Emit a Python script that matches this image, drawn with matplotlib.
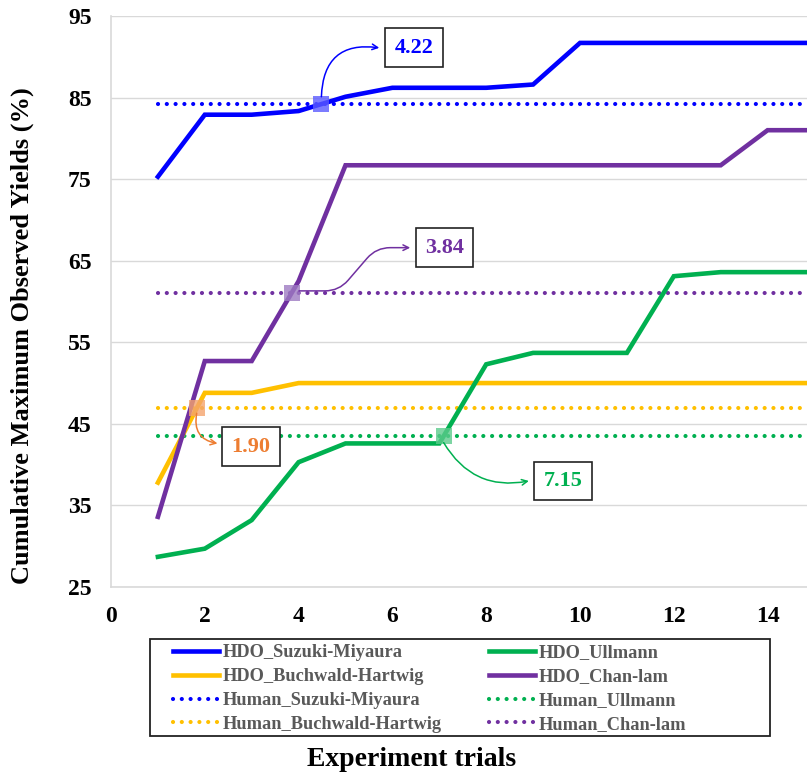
import numpy as np
import matplotlib
matplotlib.use("Agg")
from matplotlib import pyplot as plt
from matplotlib.patches import Rectangle

# HDO cumulative maximum yields per trial
trials = [1, 2, 3, 4, 5, 6, 7, 8, 9, 10, 11, 12, 13, 14, 15]
hdo_suzuki = [75.3, 82.9, 82.9, 83.35, 85.1, 86.2, 86.2, 86.2, 86.6, 91.7, 91.7, 91.7, 91.7, 91.7, 91.7]
hdo_buchwald = [37.8, 48.8, 48.8, 50.0, 50.0, 50.0, 50.0, 50.0, 50.0, 50.0, 50.0, 50.0, 50.0, 50.0, 50.0]
hdo_ullmann = [28.7, 29.7, 33.2, 40.3, 42.6, 42.6, 42.6, 52.3, 53.7, 53.7, 53.7, 63.1, 63.6, 63.6, 63.6]
hdo_chanlam = [33.6, 52.7, 52.7, 62.5, 76.7, 76.7, 76.7, 76.7, 76.7, 76.7, 76.7, 76.7, 76.7, 81.0, 81.0]

# human baseline yields
human_suzuki = 84.2
human_buchwald = 46.9
human_ullmann = 43.5
human_chanlam = 61.1

gap_labels = ["4.22", "3.84", "1.90", "7.15"]

BLUE = "#0000FF"
YELLOW = "#FFC000"
GREEN = "#00B050"
PURPLE = "#7030A0"
ORANGE = "#ED7D31"

plt.rcParams['font.family'] = ['Liberation Serif', 'DejaVu Serif']
plt.rcParams['font.weight'] = 'bold'

fig = plt.figure(figsize=(8.07, 7.75), dpi=100)
ax = fig.add_axes([111 / 807, 1 - 587 / 775, 1 - 111 / 807, (587 - 16) / 775])

solid_lw = 3.3
dot_style = (0, (0.01, 2.1))

series = [
    ("Suzuki-Miyaura", hdo_suzuki, human_suzuki, BLUE),
    ("Buchwald-Hartwig", hdo_buchwald, human_buchwald, YELLOW),
    ("Ullmann", hdo_ullmann, human_ullmann, GREEN),
    ("Chan-lam", hdo_chanlam, human_chanlam, PURPLE),
]

handles = {}
for name, ys, human, color in series:
    h1, = ax.plot(trials, ys, color=color, lw=solid_lw, solid_joinstyle='miter',
                  label="HDO_" + name, zorder=3)
    h2, = ax.plot([trials[0], trials[-1]], [human, human], color=color, lw=3,
                  linestyle=dot_style, dash_capstyle='round', label="Human_" + name, zorder=2)
    handles[name] = (h1, h2)


def crossing(ys, level):
    # first point where the HDO curve reaches the human level
    ys = np.array(ys)
    i = int(np.argmax(ys >= level))
    x0, x1 = trials[i - 1], trials[i]
    return x0 + (level - ys[i - 1]) / (ys[i] - ys[i - 1]) * (x1 - x0)


# markers, labels and arrows (text box centre / arrow tip / arrow style per series)
notes = [
    (hdo_suzuki, human_suzuki, BLUE, "#5B5BFF", gap_labels[0], (6.46, 91.1), (5.72, 91.1), (0, 0.9), "arc3,rad=-0.55"),
    (hdo_chanlam, human_chanlam, PURPLE, "#9E7BC2", gap_labels[1], (7.11, 66.6), (6.38, 66.6), (0.15, 0.2),
     "arc,angleA=0,armA=40,angleB=180,armB=34,rad=14"),
    (hdo_buchwald, human_buchwald, ORANGE, "#F4A46E", gap_labels[2], (2.985, 42.2), (2.27, 42.6), (0, -0.6), "arc3,rad=0.5"),
    (hdo_ullmann, human_ullmann, GREEN, "#5CCB8C", gap_labels[3], (9.64, 38.0), (8.91, 38.0), (0, -0.8), "arc3,rad=0.35"),
]
for ys, level, color, mcolor, label, center, tip, start_off, cstyle in notes:
    xc = crossing(ys, level)
    ax.plot([xc], [level], marker='s', markersize=11, color=mcolor, alpha=0.8,
            markeredgewidth=0, linestyle='none', zorder=4)
    ax.text(center[0], center[1], label, color=color, fontsize=16, fontweight='bold',
            ha='center', va='center', zorder=5,
            bbox=dict(boxstyle='square,pad=0.42', fc='white', ec='#222222', lw=1.2))
    ax.annotate('', xy=tip, xytext=(xc + start_off[0], level + start_off[1]),
                arrowprops=dict(arrowstyle='->', color=color, lw=1.1,
                                connectionstyle=cstyle, shrinkA=0, shrinkB=0), zorder=5)

ax.set_xlim(0, 14.84)
ax.set_ylim(25, 95)
ax.set_xticks(np.arange(0, 15, 2))
ax.set_yticks(np.arange(25, 96, 10))
ax.tick_params(length=0, labelsize=17, pad=14)
for lab in ax.get_xticklabels() + ax.get_yticklabels():
    lab.set_fontweight('bold')
ax.grid(axis='y', color='#D9D9D9', lw=1)
ax.set_axisbelow(True)
for s in ['top', 'right']:
    ax.spines[s].set_visible(False)
for s in ['left', 'bottom']:
    ax.spines[s].set_color('#D9D9D9')
    ax.spines[s].set_linewidth(1.2)

fig.text(22 / 807, 1 - 336 / 775, "Cumulative Maximum Observed Yields (%)", rotation=90,
         ha='center', va='center', fontsize=19, fontweight='bold')
fig.text(412 / 807, 1 - 760 / 775, "Experiment trials", ha='center', va='center',
         fontsize=20, fontweight='bold')

order = [handles["Suzuki-Miyaura"][0], handles["Buchwald-Hartwig"][0],
         handles["Suzuki-Miyaura"][1], handles["Buchwald-Hartwig"][1],
         handles["Ullmann"][0], handles["Chan-lam"][0],
         handles["Ullmann"][1], handles["Chan-lam"][1]]
leg = fig.legend(handles=order, labels=[h.get_label() for h in order], ncol=2,
                 loc='upper left', bbox_to_anchor=(173 / 807, 1 - 644 / 775),
                 frameon=False, borderpad=0, borderaxespad=0, fontsize=13.2,
                 handlelength=2.5, handletextpad=0.2, labelspacing=0.38, columnspacing=2.6)
for t in leg.get_texts():
    t.set_color('#595959')
    t.set_fontweight('bold')
fig.patches.append(Rectangle((150 / 807, 1 - 736 / 775), 620 / 807, 97 / 775,
                             transform=fig.transFigure, fill=False, ec='#222222', lw=1.3))

fig.savefig("out.png", dpi=100)
